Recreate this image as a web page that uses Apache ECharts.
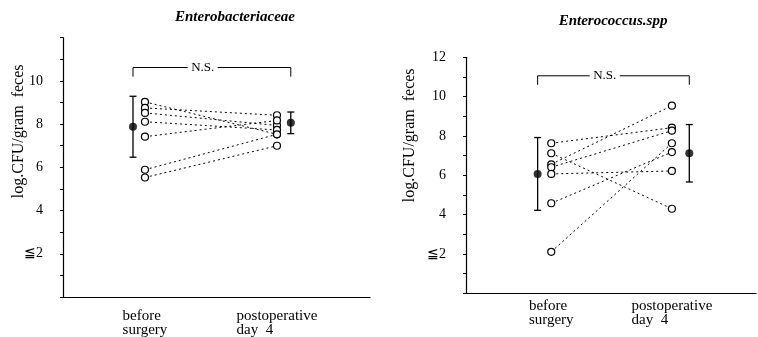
<!DOCTYPE html>
<html>
<head>
<meta charset="utf-8">
<script src="https://cdn.jsdelivr.net/npm/echarts@6/dist/echarts.min.js"></script>
<style>
  html, body { margin: 0; padding: 0; background: #fff; }
  #chart { width: 758px; height: 337px; }
</style>
</head>
<body>
<div id="chart"></div>
<script>
// categories on the x axis
const groups = ["before\nsurgery", "postoperative\nday  4"];
const titles = ["Enterobacteriaceae", "Enterococcus.spp"];
const yTickLabels = [[2, 4, 6, 8, 10], [2, 4, 6, 8, 10, 12]];

// Enterobacteriaceae, log CFU/gram feces per patient
const entBefore = [9.03, 8.75, 8.52, 8.11, 7.42, 5.89, 5.53];
const entPost = [7.53, 8.41, 7.94, 7.73, 8.17, 7.53, 7.0];
const entMean = [7.88, 8.06];
const entErr = [1.41, 0.5];

// Enterococcus spp
const encBefore = [7.63, 7.12, 6.56, 6.41, 6.07, 4.58, 2.11];
const encPost = [8.42, 4.3, 9.54, 8.27, 6.22, 7.18, 7.63];
const encMean = [6.07, 7.12];
const encErr = [1.85, 1.46];

const sigLabel = "N.S.";
const bracketY = [[10.2, 10.62], [10.6, 11.06]];

// x positions inside each panel (value axis 0..10)
const xPos = [
  { pt: [2.67, 6.97], mean: [2.28, 7.42] },
  { pt: [2.94, 7.1], mean: [2.47, 7.7] },
];

const serif = "Liberation Serif";
const chart = echarts.init(document.getElementById("chart"));

const panels = [
  { before: entBefore, post: entPost, mean: entMean, err: entErr },
  { before: encBefore, post: encPost, mean: encMean, err: encErr },
];

const series = [];
panels.forEach((p, k) => {
  const xp = xPos[k];
  p.before.forEach((v, i) => {
    series.push({
      type: "line",
      xAxisIndex: k,
      yAxisIndex: k,
      data: [[xp.pt[0], v], [xp.pt[1], p.post[i]]],
      symbol: "circle",
      symbolSize: 7,
      itemStyle: { color: "#fff", borderColor: "#000", borderWidth: 1.2 },
      lineStyle: { color: "#000", width: 1, type: [2, 3] },
      animation: false,
      z: 3,
    });
  });
  // error bars
  series.push({
    type: "custom",
    xAxisIndex: k,
    yAxisIndex: k,
    data: p.mean.map((m, i) => [xp.mean[i], m - p.err[i], m + p.err[i]]),
    renderItem: (params, api) => {
      const lo = api.coord([api.value(0), api.value(1)]);
      const hi = api.coord([api.value(0), api.value(2)]);
      const w = 3.5;
      const st = { stroke: "#000", lineWidth: 1.3 };
      return {
        type: "group",
        children: [
          { type: "line", shape: { x1: lo[0], y1: lo[1], x2: hi[0], y2: hi[1] }, style: st },
          { type: "line", shape: { x1: lo[0] - w, y1: lo[1], x2: lo[0] + w, y2: lo[1] }, style: st },
          { type: "line", shape: { x1: hi[0] - w, y1: hi[1], x2: hi[0] + w, y2: hi[1] }, style: st },
        ],
      };
    },
    animation: false,
    z: 4,
  });
  // means
  series.push({
    type: "scatter",
    xAxisIndex: k,
    yAxisIndex: k,
    data: p.mean.map((m, i) => [xp.mean[i], m]),
    symbol: "circle",
    symbolSize: 8,
    itemStyle: { color: "#000" },
    animation: false,
    z: 5,
  });
  // significance bracket
  const b = bracketY[k];
  series.push({
    type: "line",
    xAxisIndex: k,
    yAxisIndex: k,
    data: [[xp.mean[0], b[0]], [xp.mean[0], b[1]], [xp.mean[1], b[1]], [xp.mean[1], b[0]]],
    symbol: "none",
    lineStyle: { color: "#000", width: 1 },
    animation: false,
    z: 2,
  });
  series.push({
    type: "scatter",
    xAxisIndex: k,
    yAxisIndex: k,
    data: [[(xp.mean[0] + xp.mean[1]) / 2 - 0.3, b[1]]],
    symbol: "rect",
    symbolSize: [30, 12],
    itemStyle: { color: "#fff", opacity: 1 },
    label: {
      show: true,
      position: "inside",
      formatter: sigLabel,
      fontFamily: serif,
      fontSize: 13,
      color: "#000",
      textBorderWidth: 0,
    },
    emphasis: { disabled: true },
    animation: false,
    z: 6,
  });
});

const grids = [
  { left: 63, right: 388, top: 37.7, bottom: 40, outerBoundsMode: "none" },
  { left: 466, right: 2, top: 57.3, bottom: 43.7, outerBoundsMode: "none" },
];

const options = {
  backgroundColor: "#fff",
  title: [
    {
      text: titles[0],
      left: 230,
      top: 5,
      textAlign: "center",
      textStyle: { fontFamily: serif, fontStyle: "italic", fontWeight: "bold", fontSize: 15, color: "#000" },
    },
    {
      text: titles[1],
      left: 608,
      top: 9,
      textAlign: "center",
      textStyle: { fontFamily: serif, fontStyle: "italic", fontWeight: "bold", fontSize: 15, color: "#000" },
    },
  ],
  grid: grids,
  xAxis: grids.map((g, k) => ({
    type: "value",
    gridIndex: k,
    min: 0,
    max: 10,
    splitLine: { show: false },
    axisTick: { show: false },
    axisLine: { lineStyle: { color: "#000", width: 1.2 } },
    axisLabel: {
      customValues: xPos[k].pt,
      margin: k === 0 ? 12 : 6,
      color: "#000",
      fontFamily: serif,
      fontSize: 15,
      lineHeight: 14,
      formatter: (v) => {
        const i = xPos[k].pt.indexOf(v);
        return i < 0 ? "" : groups[i].split("\n").map((s) => "{l|" + s + "}").join("\n");
      },
      rich: { l: { align: "left", fontFamily: serif, fontSize: 15, lineHeight: 14, color: "#000" } },
    },
  })),
  yAxis: grids.map((g, k) => ({
    type: "value",
    gridIndex: k,
    min: 0,
    max: 12,
    interval: 1,
    name: "log.CFU/gram  feces",
    nameLocation: "middle",
    nameRotate: 90,
    nameMoveOverlap: false,
    nameGap: k === 0 ? 36 : 48,
    nameTextStyle: { fontFamily: serif, fontSize: 16, color: "#000", padding: [0, 0, 0, k === 0 ? 72 : 80] },
    splitLine: { show: false },
    axisLine: { show: true, lineStyle: { color: "#000", width: 1.2 } },
    axisTick: { show: true, length: 3, lineStyle: { color: "#000" } },
    axisLabel: {
      customValues: yTickLabels[k],
      margin: 20,
      color: "#000",
      fontFamily: serif,
      fontSize: 14,
      formatter: (v) => (v === 2 ? "\u2266" + v : String(v)),
    },
  })),
  series: series,
};

chart.setOption(options);
</script>
</body>
</html>
